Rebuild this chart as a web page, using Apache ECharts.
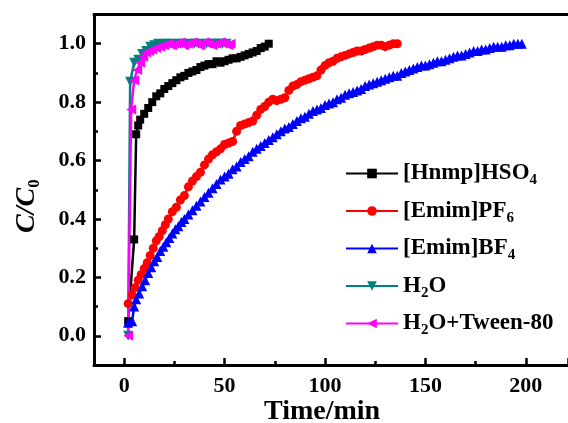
<!DOCTYPE html>
<html lang="en">
<head>
    <meta charset="UTF-8">
    <title>C/C0 vs time</title>
    <script type="text/javascript" src="https://cdn.jsdelivr.net/npm/echarts@6/dist/echarts.min.js"></script>
</head>
<body style="margin:0;">

    <div id="chart" style="width:568px;height:423px;"></div>

<script type="text/javascript">
// [Hnmp]HSO4
var hnmpT = [2, 5, 6, 7, 8, 10, 12, 14, 16, 18, 20, 22, 24, 26, 28, 30, 32, 34, 36, 38, 40, 42, 44, 46, 48, 50, 52, 54, 56, 58, 60, 62, 64, 66, 68, 70, 72];
var hnmpY = [0.05, 0.33, 0.69, 0.72, 0.74, 0.76, 0.78, 0.80, 0.82, 0.83, 0.845, 0.855, 0.865, 0.875, 0.885, 0.89, 0.90, 0.905, 0.91, 0.92, 0.925, 0.93, 0.93, 0.94, 0.935, 0.94, 0.945, 0.95, 0.95, 0.955, 0.96, 0.965, 0.97, 0.975, 0.985, 0.99, 1.0];

// [Emim]PF6
var pf6T = [2, 4, 5.5, 7, 8.5, 10, 11.5, 13, 14.5, 16, 17.5, 19, 20.5, 22, 24, 26, 28, 30, 32, 34, 36, 38, 40, 42, 44, 46, 48, 50, 52, 54, 56, 58, 60, 62, 64, 66, 68, 70, 72, 74, 76, 78, 80, 82, 84, 86, 88, 90, 92, 94, 96, 98, 100, 102, 104, 106, 108, 110, 112, 114, 116, 118, 120, 122, 124, 126, 128, 130, 132, 134, 136];
var pf6Y = [0.11, 0.14, 0.165, 0.19, 0.21, 0.23, 0.25, 0.275, 0.30, 0.325, 0.34, 0.36, 0.38, 0.40, 0.425, 0.44, 0.465, 0.48, 0.51, 0.53, 0.545, 0.56, 0.585, 0.605, 0.62, 0.63, 0.64, 0.655, 0.66, 0.665, 0.70, 0.72, 0.725, 0.73, 0.735, 0.755, 0.775, 0.785, 0.80, 0.81, 0.805, 0.81, 0.815, 0.84, 0.855, 0.86, 0.87, 0.875, 0.88, 0.885, 0.89, 0.91, 0.925, 0.935, 0.94, 0.95, 0.955, 0.96, 0.965, 0.97, 0.975, 0.975, 0.98, 0.985, 0.99, 0.995, 0.995, 0.99, 0.995, 1.0, 1.0];

// [Emim]BF4
var bf4T = [2, 4, 5, 6, 7.5, 9, 10.5, 12, 13.5, 15, 16.5, 18, 19.5, 21, 22.5, 24, 25.5, 27, 28.5, 30, 32, 34, 36, 38, 40, 42, 44, 46, 48, 50, 52, 54, 56, 58, 60, 62, 64, 66, 68, 70, 72, 74, 76, 78, 80, 82, 84, 86, 88, 90, 92, 94, 96, 98, 100, 102, 104, 106, 108, 110, 112, 114, 116, 118, 120, 122, 124, 126, 128, 130, 132, 134, 136, 138, 140, 142, 144, 146, 148, 150, 152, 154, 156, 158, 160, 162, 164, 166, 168, 170, 172, 174, 176, 178, 180, 182, 184, 186, 188, 190, 192, 194, 196, 198];
var bf4Y = [0.045, 0.05, 0.10, 0.125, 0.145, 0.17, 0.19, 0.215, 0.235, 0.255, 0.27, 0.29, 0.305, 0.32, 0.335, 0.35, 0.365, 0.375, 0.39, 0.40, 0.415, 0.43, 0.445, 0.46, 0.475, 0.49, 0.505, 0.52, 0.535, 0.545, 0.555, 0.57, 0.58, 0.595, 0.605, 0.615, 0.63, 0.64, 0.65, 0.66, 0.67, 0.68, 0.69, 0.70, 0.71, 0.715, 0.725, 0.735, 0.745, 0.75, 0.76, 0.77, 0.775, 0.78, 0.79, 0.795, 0.80, 0.81, 0.815, 0.825, 0.83, 0.835, 0.84, 0.845, 0.855, 0.86, 0.865, 0.87, 0.875, 0.88, 0.885, 0.89, 0.89, 0.90, 0.905, 0.91, 0.915, 0.92, 0.925, 0.925, 0.93, 0.935, 0.94, 0.94, 0.945, 0.95, 0.955, 0.96, 0.96, 0.965, 0.97, 0.975, 0.975, 0.98, 0.98, 0.985, 0.99, 0.99, 0.99, 0.995, 0.995, 1.0, 1.0, 1.0];

// H2O
var waterT = [2, 3, 5, 7, 9, 11, 13, 15, 17, 19, 21, 23, 25, 27, 29, 31, 33, 35, 37, 39, 41, 43, 45, 47, 49, 51];
var waterY = [0, 0.87, 0.935, 0.945, 0.965, 0.975, 0.99, 0.995, 1.0, 0.995, 1.0, 1.0, 0.995, 1.0, 1.0, 0.995, 1.0, 1.0, 1.0, 0.995, 1.0, 1.0, 1.0, 1.0, 1.0, 1.0];

// H2O+Tween-80
var tweenT = [2, 3.5, 5, 6.5, 8, 9.5, 11, 12.5, 14, 16, 18, 20, 22, 24, 26, 28, 30, 32, 34, 36, 38, 40, 42, 44, 46, 48, 50, 52, 53];
var tweenY = [0, 0.775, 0.875, 0.91, 0.935, 0.955, 0.97, 0.975, 0.98, 0.985, 0.99, 0.995, 1.0, 0.995, 1.0, 1.005, 0.995, 1.0, 1.005, 1.0, 0.995, 1.005, 1.0, 0.995, 1.0, 1.005, 1.0, 0.995, 1.0];

var names = ['[Hnmp]HSO4', '[Emim]PF6', '[Emim]BF4', 'H2O', 'H2O+Tween-80'];
// rich text labels for the legend (subscripts)
var legendLabels = {
    '[Hnmp]HSO4': '{n|[Hnmp]HSO}{s|4}',
    '[Emim]PF6': '{n|[Emim]PF}{s|6}',
    '[Emim]BF4': '{n|[Emim]BF}{s|4}',
    'H2O': '{n|H}{s|2}{n|O}',
    'H2O+Tween-80': '{n|H}{s|2}{n|O+Tween-80}'
};

function zip(t, y) {
    var out = [];
    for (var i = 0; i < t.length; i++) out.push([t[i], y[i]]);
    return out;
}

var font = 'Liberation Serif, Times New Roman, serif';

function line(name, t, y, color, symbol, size, rot) {
    return {
        name: name,
        type: 'line',
        data: zip(t, y),
        symbol: symbol,
        symbolSize: size,
        symbolRotate: rot || 0,
        itemStyle: { color: color },
        lineStyle: { color: color, width: 2.5 },
        showAllSymbol: true
    };
}

var axisCommon = {
    type: 'value',
    splitLine: { show: false },
    axisLine: { onZero: false, lineStyle: { color: '#000', width: 3 } },
    axisTick: { inside: true, length: 7, lineStyle: { color: '#000', width: 2.5 } },
    minorTick: { show: true, splitNumber: 2, length: 4, lineStyle: { color: '#000', width: 2.5 } }
};

var dom = document.getElementById("chart");
var myChart = echarts.init(dom);
var option = {
    animation: false,
    backgroundColor: '#fff',
    grid: { left: 94, right: 0, top: 14.5, bottom: 58 },
    legend: {
        orient: 'vertical',
        left: 340,
        top: 154,
        itemWidth: 52,
        itemHeight: 12,
        itemGap: 8.5,
        symbolRotate: 'inherit',
        data: names,
        formatter: function (n) { return legendLabels[n]; },
        textStyle: {
            rich: {
                n: { fontFamily: font, fontWeight: 'bold', fontSize: 23, color: '#000', lineHeight: 26 },
                s: { fontFamily: font, fontWeight: 'bold', fontSize: 15, color: '#000', padding: [14, 0, 0, 0], lineHeight: 26 }
            }
        }
    },
    xAxis: [
        echarts.util.merge({
            min: -15, max: 221,
            axisLabel: {
                showMinLabel: false, showMaxLabel: false,
                margin: 10,
                fontFamily: font, fontWeight: 'bold', fontSize: 22, color: '#000'
            }
        }, axisCommon),
        // top frame line
        {
            type: 'value', position: 'top', min: -15, max: 221,
            splitLine: { show: false },
            axisLine: { onZero: false, lineStyle: { color: '#000', width: 3 } },
            axisTick: { show: false }, axisLabel: { show: false }
        }
    ],
    yAxis: echarts.util.merge({
        min: -0.1, max: 1.1,
        axisLabel: {
            showMinLabel: false, showMaxLabel: false,
            margin: 8,
            fontFamily: font, fontWeight: 'bold', fontSize: 22, color: '#000',
            formatter: function (v) { return v.toFixed(1); }
        }
    }, axisCommon),
    graphic: [
        {
            type: 'text', left: 264, top: 398,
            style: { text: 'Time/min', font: 'bold 28px ' + font, fill: '#000' }
        },
        {
            type: 'text', x: 12, y: 233, rotation: Math.PI / 2,
            style: {
                text: '{i|C/C}{s|0}',
                rich: {
                    i: { font: 'italic bold 28px ' + font, fill: '#000', lineHeight: 30 },
                    s: { font: 'bold 17px ' + font, fill: '#000', padding: [16, 0, 0, 0], lineHeight: 30 }
                }
            }
        }
    ],
    series: [
        line(names[0], hnmpT, hnmpY, '#000000', 'rect', 8),
        line(names[1], pf6T, pf6Y, '#ff0000', 'circle', 9),
        line(names[2], bf4T, bf4Y, '#0000ff', 'triangle', 10),
        line(names[3], waterT, waterY, '#008080', 'triangle', 10, 180),
        line(names[4], tweenT, tweenY, '#ff00ff', 'triangle', 10, 90)
    ]
};

if (option && typeof option === "object") {
    myChart.setOption(option, true);
}
</script>
</body>
</html>
